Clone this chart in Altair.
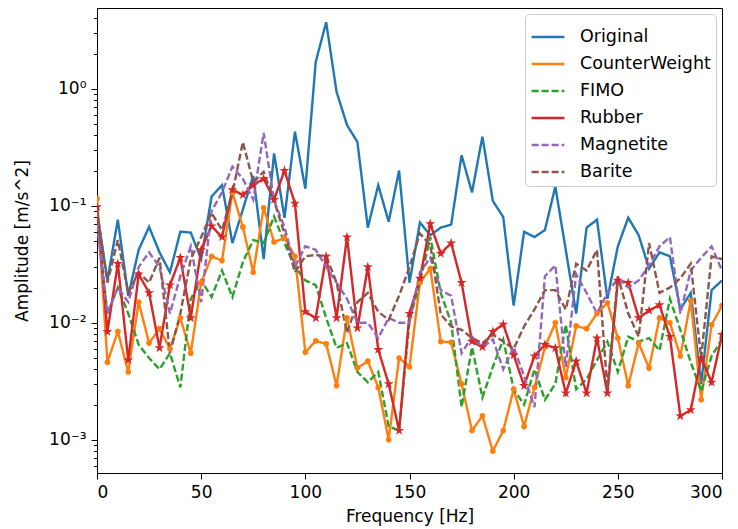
import altair as alt
import pandas as pd

freq = [0, 5, 10, 15, 20, 25, 30, 35, 40, 45, 50, 55, 60, 65, 70, 75, 80, 85, 90, 95,
        100, 105, 110, 115, 120, 125, 130, 135, 140, 145, 150, 155, 160, 165, 170, 175,
        180, 185, 190, 195, 200, 205, 210, 215, 220, 225, 230, 235, 240, 245, 250, 255,
        260, 265, 270, 275, 280, 285, 290, 295, 300]

original = [0.09, 0.023, 0.076, 0.017, 0.042, 0.066, 0.040, 0.027, 0.060, 0.059, 0.035,
            0.12, 0.15, 0.048, 0.093, 0.18, 0.035, 0.28, 0.079, 0.43, 0.14, 1.7, 3.7, 0.94,
            0.49, 0.35, 0.065, 0.15, 0.073, 0.20, 0.022, 0.072, 0.056, 0.065, 0.069, 0.27,
            0.13, 0.39, 0.11, 0.08, 0.014, 0.06, 0.054, 0.062, 0.146, 0.042, 0.012, 0.065,
            0.076, 0.016, 0.045, 0.079, 0.056, 0.029, 0.040, 0.037, 0.013, 0.018, 0.003,
            0.019, 0.023]

counterweight = [0.115, 0.0046, 0.0084, 0.0038, 0.015, 0.0067, 0.0089, 0.006, 0.011, 0.0055,
                 0.022, 0.037, 0.034, 0.13, 0.066, 0.027, 0.096, 0.049, 0.053, 0.037, 0.0056,
                 0.0070, 0.0066, 0.0029, 0.011, 0.0041, 0.0047, 0.0028, 0.001, 0.005, 0.0042,
                 0.022, 0.029, 0.0069, 0.0068, 0.003, 0.0012, 0.0016, 0.0008, 0.0012, 0.0027,
                 0.0013, 0.0028, 0.0062, 0.010, 0.0034, 0.0094, 0.0089, 0.012, 0.0148, 0.0074,
                 0.0029, 0.0067, 0.0041, 0.011, 0.010, 0.0052, 0.0154, 0.0022, 0.0096, 0.014]

fimo = [0.08, 0.012, 0.02, 0.012, 0.0065, 0.005, 0.004, 0.0055, 0.0028, 0.016, 0.023,
        0.0166, 0.028, 0.0166, 0.033, 0.051, 0.048, 0.081, 0.048, 0.030, 0.023, 0.021,
        0.011, 0.0061, 0.0067, 0.0038, 0.0031, 0.0038, 0.0013, 0.0012, 0.0105, 0.022,
        0.054, 0.018, 0.01, 0.0019, 0.0062, 0.0023, 0.0042, 0.0072, 0.0027, 0.002, 0.004,
        0.0022, 0.003, 0.0096, 0.0027, 0.0033, 0.0048, 0.0069, 0.0038, 0.0076, 0.0069,
        0.0074, 0.0058, 0.016, 0.0087, 0.0046, 0.0026, 0.0052, 0.0072]

rubber = [0.098, 0.0084, 0.032, 0.0048, 0.026, 0.018, 0.0061, 0.021, 0.036, 0.011, 0.042,
          0.067, 0.054, 0.137, 0.124, 0.15, 0.17, 0.113, 0.20, 0.105, 0.0124, 0.011, 0.037,
          0.011, 0.054, 0.009, 0.030, 0.0059, 0.003, 0.0012, 0.012, 0.024, 0.070, 0.039,
          0.048, 0.022, 0.0069, 0.0062, 0.0084, 0.0097, 0.0053, 0.0029, 0.0052, 0.0065,
          0.0061, 0.0025, 0.0047, 0.0025, 0.0074, 0.0025, 0.023, 0.022, 0.011, 0.0127,
          0.0142, 0.0076, 0.0016, 0.0018, 0.005, 0.0031, 0.0079]

magnetite = [0.07, 0.012, 0.02, 0.015, 0.03, 0.04, 0.03, 0.012, 0.025, 0.045, 0.015, 0.09,
             0.13, 0.216, 0.17, 0.113, 0.42, 0.11, 0.066, 0.03, 0.045, 0.042, 0.03, 0.022,
             0.016, 0.01, 0.01, 0.0074, 0.011, 0.01, 0.01, 0.027, 0.036, 0.019, 0.017, 0.0055,
             0.0076, 0.0062, 0.0072, 0.004, 0.0062, 0.0035, 0.0019, 0.025, 0.031, 0.0042,
             0.026, 0.018, 0.012, 0.018, 0.024, 0.020, 0.023, 0.031, 0.045, 0.054, 0.012,
             0.028, 0.036, 0.045, 0.028]

barite = [0.09, 0.022, 0.051, 0.018, 0.027, 0.022, 0.036, 0.0055, 0.012, 0.035, 0.054,
          0.087, 0.062, 0.128, 0.35, 0.16, 0.195, 0.11, 0.058, 0.027, 0.037, 0.038, 0.037,
          0.022, 0.0082, 0.015, 0.018, 0.0124, 0.0106, 0.017, 0.03, 0.058, 0.046, 0.0118,
          0.0093, 0.0087, 0.0074, 0.0067, 0.0079, 0.0069, 0.006, 0.0093, 0.013, 0.019, 0.019,
          0.013, 0.032, 0.028, 0.042, 0.0027, 0.025, 0.012, 0.0076, 0.048, 0.018, 0.020,
          0.024, 0.032, 0.005, 0.037, 0.035]

series_names = ["Original", "CounterWeight", "FIMO", "Rubber", "Magnetite", "Barite"]
series_values = [original, counterweight, fimo, rubber, magnetite, barite]
colors = ["#1f77b4", "#ff7f0e", "#2ca02c", "#d62728", "#9467bd", "#8c564b"]
dashes = [[1, 0], [1, 0], [7, 3], [1, 0], [7, 3], [7, 3]]

x_ticks = [0, 50, 100, 150, 200, 250, 300]
y_major = [0.001, 0.01, 0.1, 1.0]
y_minor = [0.0006, 0.0007, 0.0008, 0.0009,
           0.002, 0.003, 0.004, 0.005, 0.006, 0.007, 0.008, 0.009,
           0.02, 0.03, 0.04, 0.05, 0.06, 0.07, 0.08, 0.09,
           0.2, 0.3, 0.4, 0.5, 0.6, 0.7, 0.8, 0.9,
           2.0, 3.0, 4.0]

STAR_PT = ("M0,-1L0.2245,-0.309L0.951,-0.309L0.363,0.118L0.588,0.809L0,0.382"
           "L-0.588,0.809L-0.363,0.118L-0.951,-0.309L-0.2245,-0.309Z")

rows = []
for name, vals in zip(series_names, series_values):
    for f, v in zip(freq, vals):
        rows.append({"freq": f, "value": v, "series": name})
df = pd.DataFrame(rows)

FONT = "DejaVu Sans"
FS = 17

x_scale = alt.Scale(domain=[0, 300], nice=False, zero=False)
y_scale = alt.Scale(type="log", domain=[5.2e-4, 4.9], nice=False)

label_expr = ("datum.value > 0.5 ? '10\u2070' : datum.value > 0.05 ? '10\u207b\u00b9' : "
              "datum.value > 0.005 ? '10\u207b\u00b2' : '10\u207b\u00b3'")

color_scale = alt.Scale(domain=series_names, range=colors)
dash_scale = alt.Scale(domain=series_names, range=dashes)

legend = alt.Legend(title=None, orient="top-right", offset=6, padding=5,
                    strokeColor="#cccccc", cornerRadius=4, fillColor="white",
                    symbolType="stroke", symbolSize=1072, symbolStrokeWidth=2.4,
                    labelFontSize=17.5, labelFont=FONT, labelColor="black",
                    labelOffset=14, rowPadding=0, labelLimit=300)

base = alt.Chart(df)

lines = base.mark_line(strokeWidth=2.4, clip=True).encode(
    x=alt.X("freq:Q", scale=x_scale,
            axis=alt.Axis(title="Frequency [Hz]", values=x_ticks, format="d",
                          tickSize=6, labelPadding=5, titlePadding=8, grid=False)),
    y=alt.Y("value:Q", scale=y_scale,
            axis=alt.Axis(title="Amplitude [m/s^2]", values=y_major, labelExpr=label_expr,
                          tickSize=6, labelPadding=5, titlePadding=17, grid=False)),
    color=alt.Color("series:N", scale=color_scale, legend=legend),
    strokeDash=alt.StrokeDash("series:N", scale=dash_scale, legend=legend),
)

cw_points = base.transform_filter(alt.datum.series == "CounterWeight").mark_point(
    filled=True, opacity=1, size=32, shape="circle", clip=True).encode(
    x=alt.X("freq:Q", scale=x_scale),
    y=alt.Y("value:Q", scale=y_scale, axis=None),
    color=alt.Color("series:N", scale=color_scale, legend=None),
)

rubber_points = base.transform_filter(alt.datum.series == "Rubber").mark_point(
    filled=True, opacity=1, size=110, shape=STAR_PT, clip=True).encode(
    x=alt.X("freq:Q", scale=x_scale),
    y=alt.Y("value:Q", scale=y_scale, axis=None),
    color=alt.Color("series:N", scale=color_scale, legend=None),
)

minor = base.transform_filter("false").mark_point().encode(
    x=alt.X("freq:Q", scale=x_scale),
    y=alt.Y("value:Q", scale=y_scale,
            axis=alt.Axis(title=None, values=y_minor, labels=False, domain=False,
                          orient="left", tickSize=3.5, grid=False)),
)

chart = alt.layer(lines, cw_points, rubber_points, minor).resolve_axis(
    y="independent"
).properties(
    width=625, height=465,
    autosize=alt.AutoSizeParams(type="none"),
    padding={"left": 97, "top": 8, "right": 16, "bottom": 56},
    background="white",
).configure_view(
    stroke="black", strokeWidth=1
).configure_axis(
    labelFont=FONT, titleFont=FONT, labelFontSize=FS, titleFontSize=FS,
    labelColor="black", titleColor="black", titleFontWeight="normal",
    domainColor="black", tickColor="black", domainWidth=1, tickWidth=1,
)

chart.save("out.html", embed_options={"renderer": "svg", "actions": False})
